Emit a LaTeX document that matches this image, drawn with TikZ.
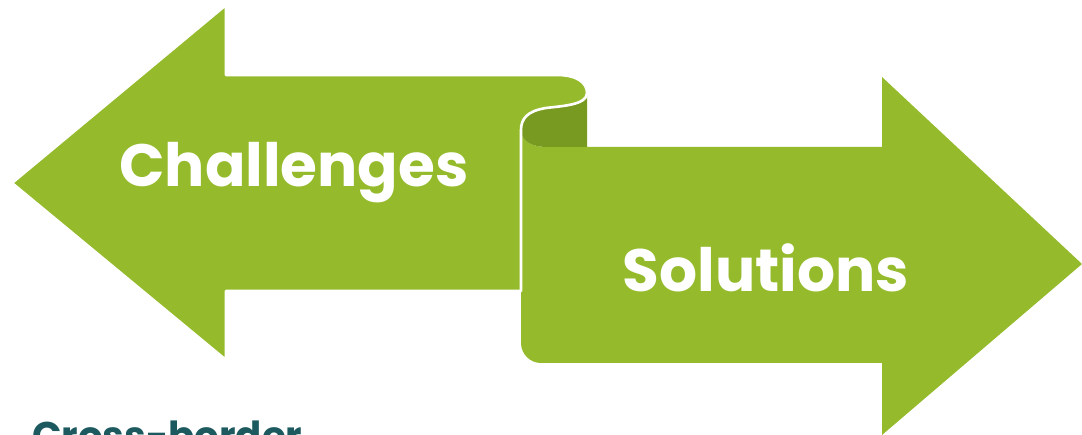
\documentclass[tikz,border=0pt]{standalone}
\usepackage{fontspec}
\newfontfamily\headfont{Poppins}
\usepackage{tikz}
\usetikzlibrary{positioning}

\definecolor{leafgreen}{HTML}{95BB2C}
\definecolor{rollgreen}{HTML}{789A20}
\definecolor{deepteal}{HTML}{1D5A5F}

\begin{document}
\begin{tikzpicture}[x=0.02cm,y=-0.02cm,
        arrowshape/.style={fill=leafgreen,draw=white,line width=1.5pt,line join=round},
        label/.style={anchor=base,text=white,font=\headfont\bfseries\fontsize{34}{40}\selectfont,inner sep=0pt}]

    \useasboundingbox (0,0) rectangle (1082,435);
    \clip (0,0) rectangle (1082,435);

    % right arrow (solutions)
    \fill[leafgreen] (521,130) .. controls (521,141) and (532,147) .. (547,147)
        -- (882,147) -- (882,77) -- (1082,264) -- (882,435) -- (882,363)
        -- (541,363) .. controls (530,363) and (521,354) .. (521,343) -- cycle;

    % inside of the roll
    \fill[rollgreen] (587,93) .. controls (587,105) and (562,106) .. (546,108)
        .. controls (527,111) and (521,119) .. (521,130)
        .. controls (521,141) and (532,147) .. (547,147) -- (587,147) -- cycle;

    % left arrow (challenges)
    \draw[arrowshape] (12,183) -- (226,5) -- (226,75) -- (557,75)
        .. controls (576,75) and (587,82) .. (587,93)
        .. controls (587,105) and (562,106) .. (546,108)
        .. controls (527,111) and (521,119) .. (521,130)
        -- (521,291) -- (226,291) -- (226,360) -- cycle;

    \node[label] (challenges) at (294,187) {Challenges};
    \node[label] (solutions) at (766,292) {Solutions};

    \node[anchor=base west,inner sep=0pt,text=deepteal,
        font=\headfont\bfseries\fontsize{22}{26}\selectfont] (crossborder) at (32,450) {Cross-border};
\end{tikzpicture}
\end{document}
